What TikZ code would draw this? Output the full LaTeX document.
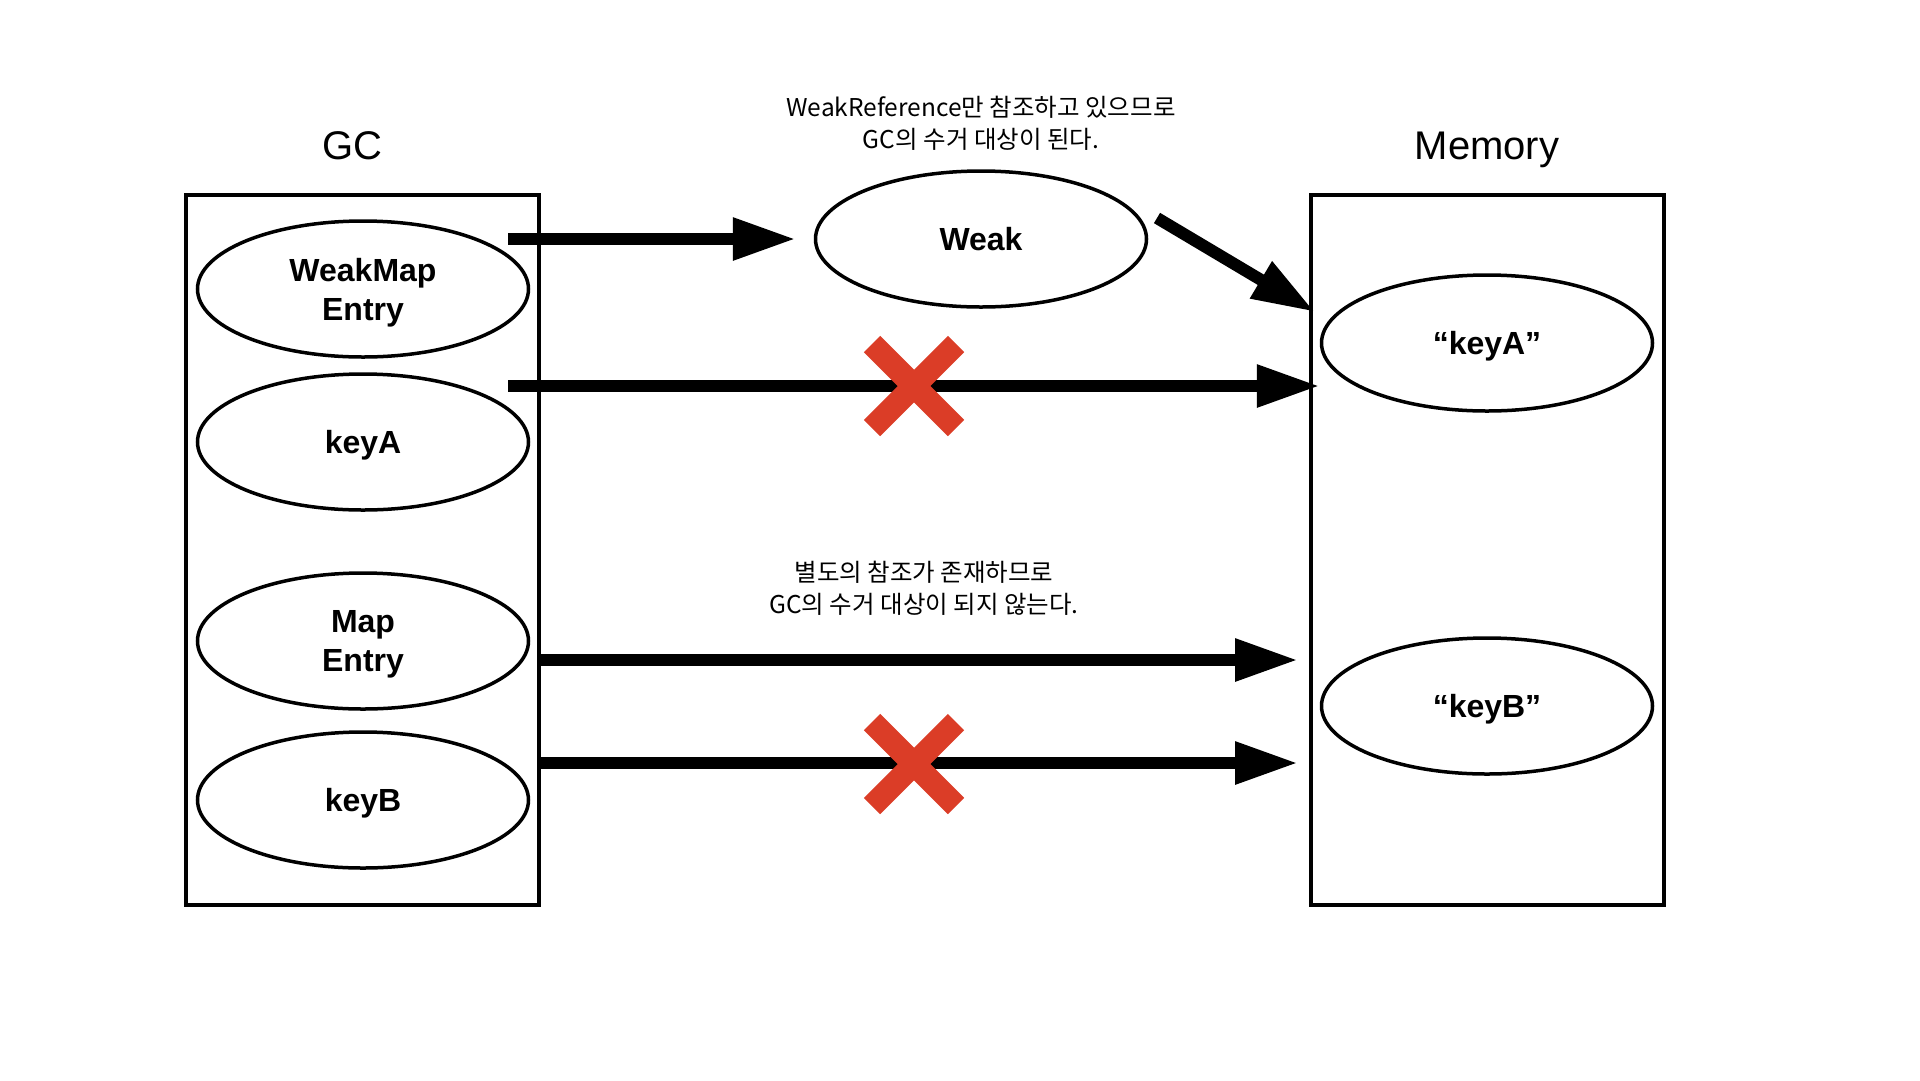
\documentclass[tikz,border=0pt]{standalone}
\usepackage{fontspec}
\setmainfont{Liberation Sans}
\newfontfamily\kr{Noto Sans CJK KR}
\usepackage{tikz}
\usetikzlibrary{shapes.geometric, arrows.meta}
\definecolor{xred}{RGB}{219,61,39}
\tikzstyle{container} = [
    rectangle,
    minimum width=353pt, minimum height=710pt,
    draw=black, line width=4pt]
\tikzstyle{object} = [
    ellipse,
    minimum width=331pt, minimum height=136pt, inner sep=0pt,
    text centered, align=center, text depth=0pt,
    font=\fontsize{32}{39}\selectfont\bfseries,
    draw=black, line width=3.5pt]
\tikzstyle{title} = [font=\fontsize{40}{48}\selectfont, anchor=base]
\tikzstyle{note} = [align=center, font=\kr\fontsize{24.5}{32}\selectfont]
\tikzstyle{arrow} = [line width=12pt, -{Triangle[length=63pt, width=40pt]}]
\tikzstyle{cross} = [line width=23pt, draw=xred]

\begin{document}
\begin{tikzpicture}[x=1pt, y=-1pt]
        \useasboundingbox (0,0) rectangle (1920,1080);

        \node (gc_box) [container] at (362.5,550) {};
        \node (mem_box) [container] at (1487,550) {};
        \node (gc_label) [title] at (352,159) {GC};
        \node (mem_label) [title] at (1487,159) {Memory};

        \node (wm_entry) [object] at (363,289) {WeakMap\\Entry};
        \node (key_a) [object] at (363,442) {keyA};
        \node (map_entry) [object] at (363,641) {Map\\Entry};
        \node (key_b) [object] at (363,800) {keyB};

        \node (weak) [object] at (981,239) {Weak};
        \node (str_a) [object] at (1487,343) {“keyA”};
        \node (str_b) [object] at (1487,706) {“keyB”};

        \node (note_weak) [note] at (981,123) {WeakReference만 참조하고 있으므로\\GC의 수거 대상이 된다.};
        \node (note_map) [note] at (924,588) {별도의 참조가 존재하므로\\GC의 수거 대상이 되지 않는다.};

        \coordinate (wm_out) at (508,239);
        \coordinate (ka_out) at (508,386);
        \coordinate (me_out) at (540,660);
        \coordinate (kb_out) at (540,763);
        \coordinate (weak_out) at (1157,218);
        \coordinate (str_a_in) at (1315,312);
        \coordinate (cut_a) at (914,386);
        \coordinate (cut_b) at (914,764);

        \draw [arrow] (wm_out) -- (weak.west) [shorten >=18pt];
        \draw [arrow] (weak_out) -- (str_a_in);
        \draw [arrow] (ka_out) -- (ka_out -| str_a.west);
        \draw [arrow] (me_out) -- (1298,660);
        \draw [arrow] (kb_out) -- (1298,763);

        % broken references
        \draw [cross] ([shift={(-42,-42)}]cut_a) -- ([shift={(42,42)}]cut_a);
        \draw [cross] ([shift={(-42,42)}]cut_a) -- ([shift={(42,-42)}]cut_a);
        \draw [cross] ([shift={(-42,-42)}]cut_b) -- ([shift={(42,42)}]cut_b);
        \draw [cross] ([shift={(-42,42)}]cut_b) -- ([shift={(42,-42)}]cut_b);
    \end{tikzpicture}
\end{document}
